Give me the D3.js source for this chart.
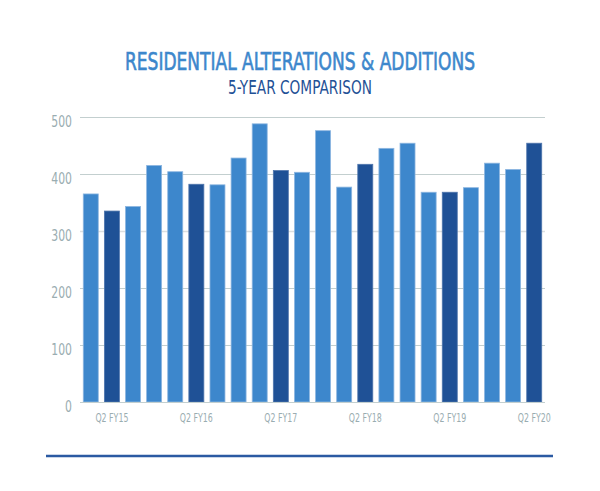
<!DOCTYPE html>
<html>
<head>
<meta charset="utf-8">
<script src="https://d3js.org/d3.v7.min.js"></script>
<style>
  html, body { margin: 0; padding: 0; background: #fff; }
  svg { display: block; }
  text { font-family: "Liberation Sans Narrow", "DejaVu Sans Condensed", "Roboto", sans-serif; }
</style>
</head>
<body>
<script>
const categories = ["Q1 FY15","Q2 FY15","Q3 FY15","Q4 FY15",
  "Q1 FY16","Q2 FY16","Q3 FY16","Q4 FY16",
  "Q1 FY17","Q2 FY17","Q3 FY17","Q4 FY17",
  "Q1 FY18","Q2 FY18","Q3 FY18","Q4 FY18",
  "Q1 FY19","Q2 FY19","Q3 FY19","Q4 FY19",
  "Q1 FY20","Q2 FY20"];
const values = [365, 335, 343, 415, 404, 382, 381, 428, 488, 406, 403, 476,
  377, 417, 445, 454, 368, 368, 376, 419, 408, 454];
const labeledCategories = ["Q2 FY15","Q2 FY16","Q2 FY17","Q2 FY18","Q2 FY19","Q2 FY20"];
const yTicks = [0, 100, 200, 300, 400, 500];
const title = "RESIDENTIAL ALTERATIONS & ADDITIONS";
const subtitle = "5-YEAR COMPARISON";

const W = 600, H = 491;
const svg = d3.select("body").append("svg").attr("width", W).attr("height", H);

const x = d3.scaleBand().domain(categories).range([80, 545]).paddingInner(0.29).paddingOuter(0.155);
const y = d3.scaleLinear().domain([0, 500]).range([402, 117]);

const lightBlue = "#3d87cc", darkBlue = "#1f5196";

// title
svg.append("text").attr("x", 300).attr("y", 70).attr("text-anchor", "middle")
  .attr("fill", "#3d87cc").attr("stroke", "#3d87cc").attr("stroke-width", 0.6)
  .attr("font-size", 24)
  .attr("textLength", 350).attr("lengthAdjust", "spacingAndGlyphs").text(title);
svg.append("text").attr("x", 300).attr("y", 94).attr("text-anchor", "middle")
  .attr("fill", "#1f5196").attr("font-size", 20)
  .attr("textLength", 144).attr("lengthAdjust", "spacingAndGlyphs").text(subtitle);

// grid
svg.append("g").selectAll("line").data(yTicks.filter(d => d > 0)).join("line")
  .attr("x1", 80).attr("x2", 545)
  .attr("y1", d => Math.round(y(d)) + 0.5).attr("y2", d => Math.round(y(d)) + 0.5)
  .attr("stroke", d => d === 300 ? "#dcdfe0" : "#c3cfcf")
  .attr("stroke-width", d => d === 300 ? 1.5 : 1);

// y labels
svg.append("g").selectAll("text").data(yTicks).join("text")
  .attr("x", 72).attr("y", d => y(d) + 9.5).attr("text-anchor", "end")
  .attr("fill", "#9aadb1").attr("font-size", 16.5)
  .attr("textLength", d => String(d).length * 6.9).attr("lengthAdjust", "spacingAndGlyphs")
  .text(d => d);

// bars
svg.append("g").selectAll("rect").data(values).join("rect")
  .attr("x", (d, i) => x(categories[i]))
  .attr("y", d => y(d))
  .attr("width", x.bandwidth())
  .attr("height", d => y(0) - y(d))
  .attr("fill", (d, i) => labeledCategories.includes(categories[i]) ? darkBlue : lightBlue)
  .attr("stroke", (d, i) => labeledCategories.includes(categories[i]) ? "#4f75ac" : "#8db6e0")
  .attr("stroke-width", 0.8);

// baseline
svg.append("line").attr("x1", 80).attr("x2", 545).attr("y1", 402.5).attr("y2", 402.5)
  .attr("stroke", "#c3cfcf").attr("stroke-width", 1);

// x labels
svg.append("g").selectAll("text").data(labeledCategories).join("text")
  .attr("x", d => x(d) + x.bandwidth() / 2).attr("y", 422).attr("text-anchor", "middle")
  .attr("fill", "#9aadb1").attr("font-size", 13)
  .attr("textLength", 33).attr("lengthAdjust", "spacingAndGlyphs")
  .text(d => d);

// bottom rule
svg.append("line").attr("x1", 46).attr("x2", 553).attr("y1", 456).attr("y2", 456)
  .attr("stroke", "#2b5aa2").attr("stroke-width", 2.5);
</script>
</body>
</html>
